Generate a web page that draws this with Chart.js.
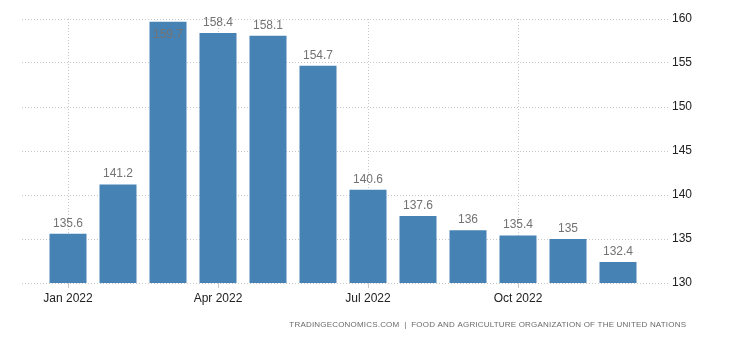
<!DOCTYPE html>
<html>
<head>
<meta charset="utf-8">
<script src="https://cdn.jsdelivr.net/npm/chart.js@4/dist/chart.umd.min.js"></script>
<style>
  html, body { margin: 0; padding: 0; background: #fff; }
  #wrap { width: 730px; height: 340px; position: relative; }
</style>
</head>
<body>
<div id="wrap"><canvas id="c" width="730" height="340"></canvas></div>
<script>
// FAO food price index, monthly, 2022
const months = ['Jan 2022', 'Feb 2022', 'Mar 2022', 'Apr 2022', 'May 2022', 'Jun 2022',
                'Jul 2022', 'Aug 2022', 'Sep 2022', 'Oct 2022', 'Nov 2022', 'Dec 2022'];
const values = [135.6, 141.2, 159.7, 158.4, 158.1, 154.7, 140.6, 137.6, 136, 135.4, 135, 132.4];
const labeledMonths = [0, 3, 6, 9];
const yTicks = [130, 135, 140, 145, 150, 155, 160];
const sourceText = 'TRADINGECONOMICS.COM  |  FOOD AND AGRICULTURE ORGANIZATION OF THE UNITED NATIONS';

const FONT = '"Liberation Sans", Arial, sans-serif';

// value above each bar (inside the bar when it would run off the canvas)
const valueLabels = {
  id: 'valueLabels',
  afterDatasetsDraw(chart) {
    const ctx = chart.ctx;
    const meta = chart.getDatasetMeta(0);
    ctx.save();
    ctx.font = '12px ' + FONT;
    ctx.textAlign = 'center';
    ctx.textBaseline = 'alphabetic';
    ctx.fillStyle = '#737373';
    meta.data.forEach((bar, i) => {
      const txt = String(values[i]);
      let y = bar.y - 7;
      if (y - 11 < 6) y = bar.y + 16;
      ctx.fillText(txt, bar.x, y);
    });
    ctx.restore();
  }
};

// source line at the bottom right, spread to span 289..686
const sourceLine = {
  id: 'sourceLine',
  afterDraw(chart) {
    const ctx = chart.ctx;
    ctx.save();
    ctx.font = '8px ' + FONT;
    const w = ctx.measureText(sourceText).width;
    const spacing = Math.max(0, (397 - w) / sourceText.length);
    ctx.letterSpacing = spacing.toFixed(2) + 'px';
    ctx.fillStyle = '#6a6a6a';
    ctx.textAlign = 'right';
    ctx.textBaseline = 'middle';
    ctx.fillText(sourceText, 686 + spacing, 325);
    ctx.restore();
  }
};

new Chart(document.getElementById('c'), {
  type: 'bar',
  data: {
    datasets: [{
      data: values.map((v, i) => ({ x: i, y: v })),
      backgroundColor: '#4682b4',
      borderWidth: 0,
      categoryPercentage: 1,
      barPercentage: 0.74
    }]
  },
  options: {
    responsive: false,
    animation: false,
    devicePixelRatio: 1,
    layout: { padding: { left: 22, top: 19, right: 0, bottom: 0 } },
    plugins: { legend: { display: false }, tooltip: { enabled: false } },
    scales: {
      x: {
        type: 'linear',
        offset: false,
        min: -0.92,
        max: 12,
        afterBuildTicks(scale) { scale.ticks = labeledMonths.map(v => ({ value: v })); },
        afterFit(scale) { scale.height = 57; },
        ticks: {
          autoSkip: false,
          maxRotation: 0,
          padding: 3,
          color: '#222',
          font: { family: FONT, size: 12 },
          callback: (v) => months[v]
        },
        grid: { offset: false, color: '#c8c8c8', drawTicks: true, tickLength: 5 },
        border: { display: false, dash: [1, 2] }
      },
      y: {
        position: 'right',
        min: 130,
        max: 160,
        afterBuildTicks(scale) { scale.ticks = yTicks.map(v => ({ value: v })); },
        afterFit(scale) { scale.width = 62; },
        ticks: {
          padding: 4,
          color: '#222',
          font: { family: FONT, size: 12 }
        },
        grid: { color: '#c8c8c8', drawTicks: false },
        border: { display: false, dash: [1, 2] }
      }
    }
  },
  plugins: [valueLabels, sourceLine]
});
</script>
</body>
</html>
